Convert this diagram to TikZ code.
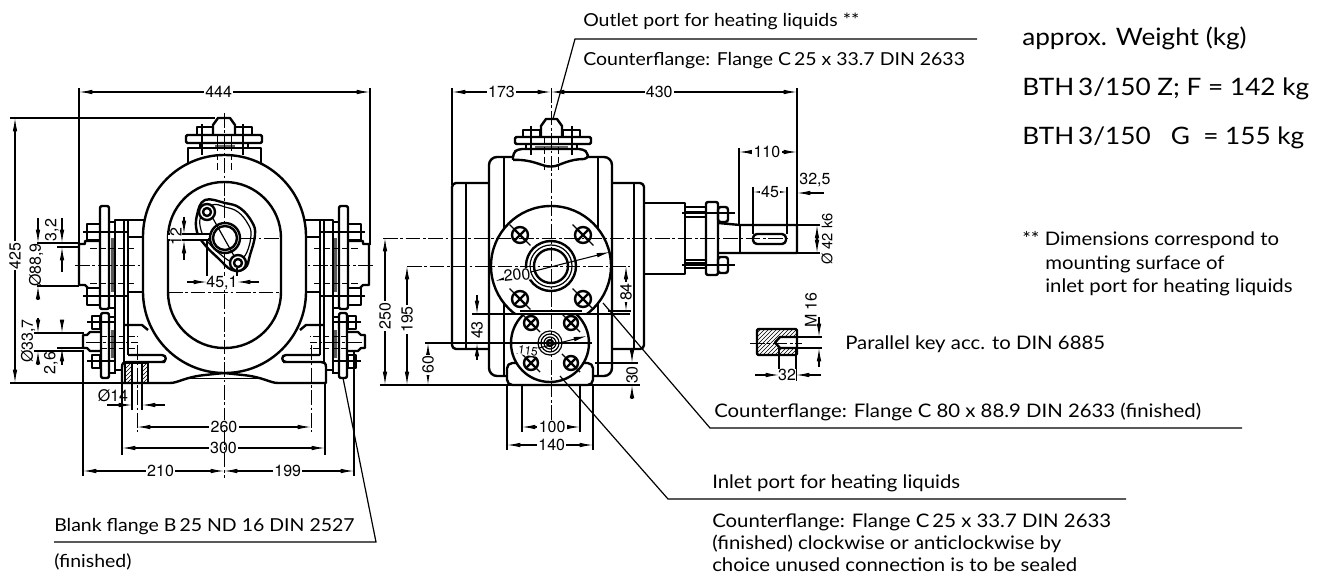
\documentclass[tikz,border=0pt]{standalone}
\usepackage{fontspec}
\setmainfont[FakeStretch=1.09]{Lato}
\newfontfamily\dimfont{TeX Gyre Heros}
\usetikzlibrary{arrows.meta,patterns}
\tikzset{
	>={Latex[length=10pt,width=3.4pt]},
	main/.style={line width=1.8pt,line join=round},
	fine/.style={line width=.9pt},
	cl/.style={line width=.7pt,dash pattern=on 11pt off 2pt on 2pt off 2pt},
	dl/.style={line width=.7pt,dash pattern=on 5pt off 2pt},
	dim/.style={line width=.8pt},
	dimtext/.style={font=\dimfont\fontsize{12}{12}\selectfont,fill=white,inner sep=1pt},
	dimside/.style={font=\dimfont\fontsize{12}{12}\selectfont,inner sep=0pt},
	lab/.style={anchor=base west,inner sep=0pt,font=\fontsize{13.4}{14}\selectfont},
	labb/.style={anchor=base west,inner sep=0pt,font=\fontsize{14}{14}\selectfont},
	big/.style={anchor=base west,inner sep=0pt,font=\fontsize{18}{20}\selectfont},
}
% flanges and foot of the end view, drawn for the left side and mirrored
\newcommand{\sideparts}{
	\draw[main] (146,220) -- (115,220) -- (115,370) -- (122,370);
	\draw[main] (124,220) -- (124,362);
	\draw[fine] (128,220) -- (128,355);
	\draw[main] (128,237) -- (143,237);
	\draw[main] (128,292) -- (146,292);
	\draw[main] (124,325) -- (142,325) -- (148,330);
	\draw[fine] (109,222) rectangle (115,308);
	\fill[black!65] (111,238) rectangle (114,292);
	\draw[main,rounded corners=1.5pt] (100,206) rectangle (109,309);
	\draw[main] (87,224) rectangle (100,240);
	\draw[main] (87,288) rectangle (100,305);
	\draw[main] (100,241) -- (85,241) -- (85,244) -- (79,244) -- (79,285) -- (85,285) -- (88,288);
	\draw[fine] (83,232) -- (128,232);
	\draw[fine] (83,296) -- (128,296);
	\draw[cl] (75,265) -- (150,265);
	\draw[dl] (90,248) -- (136,248);
	\draw[dl] (90,283) -- (136,283);
	% lower flange
	\draw[fine] (109,317) rectangle (115,373);
	\fill[black!65] (111,330) rectangle (114,358);
	\draw[main,rounded corners=1.5pt] (101,313) rectangle (109,378);
	\draw[main] (92,316) rectangle (100,329);
	\draw[main] (92,355) rectangle (100,368);
	\draw[main] (101,332) -- (90,332) -- (87,335) -- (83,335) -- (83,348) -- (87,348) -- (90,351) -- (101,351);
	\draw[fine] (87,322) -- (114,322);
	\draw[fine] (87,361) -- (114,361);
	\draw[cl] (86,342) -- (138,342);
	\draw[dl] (100,336) -- (138,336);
	\draw[dl] (100,348) -- (138,348);
	% foot
	\draw[main] (224,373) -- (205,375) .. controls (185,377) and (178,383) .. (170,383) -- (122,383) -- (122,367) .. controls (122,363) and (124,362) .. (127,362) -- (165,362);
	\draw[main] (128,355) -- (162,355) .. controls (167,355) and (167,362) .. (162,362);
	\draw[fine] (190,378.5) -- (224,378.5);
}
\newcommand{\nutx}[3]{
	\draw[main] (#1,#2) circle[radius=#3];
	\draw[main] ([shift={(-.7*#3,-.7*#3)}]#1,#2) -- ([shift={(.7*#3,.7*#3)}]#1,#2);
	\draw[main] ([shift={(-.7*#3,.7*#3)}]#1,#2) -- ([shift={(.7*#3,-.7*#3)}]#1,#2);
	\draw[fine] ([shift={(-1.3*#3,-1.3*#3)}]#1,#2) -- ([shift={(1.3*#3,1.3*#3)}]#1,#2);
}
\begin{document}
\begin{tikzpicture}[x=.75pt,y=-.75pt]
	\useasboundingbox (0,0) rectangle (1325,574);
	%
	% end view
	\sideparts
	\begin{scope}[xshift=336pt,xscale=-1]
		\sideparts
	\end{scope}
	% top flange
	\draw[main] (188,170) -- (188,148) -- (261,148) -- (261,170);
	\draw[fine] (200,143) rectangle (248,148);
	\fill[black!60] (215,145) rectangle (235,147);
	\draw[main,rounded corners=1pt] (186,135) rectangle (262,143);
	\draw[main] (197,127) rectangle (213,135);
	\draw[main] (235,127) rectangle (252,135);
	\draw[main] (213,135) -- (213,125) -- (218,118) -- (230,118) -- (235,125) -- (235,135);
	\draw[main,fill=white,rounded corners=61pt] (143,155) rectangle (306,373);
	\draw[main,rounded corners=42pt] (168,182) rectangle (281,348);
	\draw[cl] (224,113) -- (224,430);
	\draw[dl] (217,135) -- (217,170);
	\draw[dl] (231,135) -- (231,170);
	\draw[fine] (202,124) -- (202,155);
	\draw[fine] (243,124) -- (243,155);
	\draw[cl] (196,238) -- (281,238);
	\draw[cl] (168,292) -- (281,292);
	% oval port
	\draw[main,smooth cycle,tension=.7] plot coordinates {(205,200) (225,203) (240,208) (252,222) (255,235) (250,255) (245,268) (232,270) (218,258) (205,245) (197,232) (197,215)};
	\draw[fine,smooth cycle,tension=.7] plot coordinates {(212,205) (225,207) (238,212) (248,224) (251,235) (247,252) (240,260) (232,262) (220,254) (208,242) (201,230) (201,216)};
	\draw[main,fill=white] (225,238) circle[radius=15];
	\draw[main] (225,238) circle[radius=12];
	\draw[fine] (211,215) -- (238,263);
	\draw[main,fill=white] (207,212) circle[radius=8];
	\draw[main] (207,212) circle[radius=4];
	\draw[main,fill=white] (238,263) circle[radius=8];
	\draw[main] (238,263) circle[radius=4];
	\fill[white] (168,234.5) rectangle (208,239.5);
	\draw[fine] (168,234) -- (210,234);
	\draw[fine] (168,240) -- (210,240);
	% hole in the foot
	\fill[pattern=north east lines] (125,363) rectangle (132,383);
	\fill[pattern=north east lines] (142,363) rectangle (148,383);
	\draw[fine] (125,363) rectangle (148,383);
	\draw[fine] (132,363) -- (132,410);
	\draw[fine] (142,363) -- (142,410);
	\draw[cl] (137,345) -- (137,432);
	\draw[cl] (311,345) -- (311,432);
	% dimensions of the end view
	\draw[fine] (79,88) -- (79,245);
	\draw[fine] (370,88) -- (370,245);
	\draw[dim,<->] (79,92) -- node[dimtext,pos=.48] (d444) {444} (370,92);
	\draw[fine] (10,118) -- (215,118);
	\draw[fine] (10,383) -- (122,383);
	\draw[dim,<->] (15,118) -- node[dimtext,rotate=90,pos=.52] (d425) {425} (15,383);
	\draw[fine] (37,243) -- (79,243);
	\draw[fine] (37,286) -- (79,286);
	\draw[dim,->] (38,218) -- (38,243);
	\draw[dim,->] (38,300) -- (38,286);
	\node[dimside,rotate=90] (d889) at (36,265) {Ø88,9};
	\draw[fine] (57,247) -- (80,247);
	\draw[dim,->] (62,218) -- (62,243);
	\draw[dim,->] (62,272) -- (62,247);
	\node[dimside,rotate=90] (d32) at (52,230) {3,2};
	\draw[fine] (34,333) -- (84,333);
	\draw[fine] (34,351) -- (84,351);
	\draw[fine] (57,348) -- (84,348);
	\draw[dim,->] (38,318) -- (38,333);
	\draw[dim,->] (38,365) -- (38,351);
	\node[dimside,rotate=90] (d337) at (28,341) {Ø33,7};
	\draw[dim,->] (62,322) -- (62,333);
	\draw[dim,->] (62,365) -- (62,348);
	\node[dimside,rotate=90] (d26) at (51,363) {2,6};
	\draw[dim,->] (184,217) -- (184,234);
	\draw[dim,->] (184,260) -- (184,240);
	\node[dimside,rotate=90,fill=white] (d12) at (176,237) {12};
	\draw[fine] (207,240) -- (207,286);
	\draw[fine] (237,268) -- (237,286);
	\draw[dim,->] (187,282) -- (207,282);
	\draw[dim,->] (259,282) -- (237,282);
	\node[dimside,fill=white] (d451) at (222,283) {45,1};
	\node[dimside] (d14) at (113,396) {Ø14};
	\draw[dim,->] (107,405) -- (132,405);
	\draw[dim,->] (165,405) -- (142,405);
	\draw[dim,<->] (137,427) -- node[dimtext,pos=.5] (d260) {260} (311,427);
	\draw[fine] (122,383) -- (122,455);
	\draw[fine] (325,383) -- (325,455);
	\draw[dim,<->] (122,448) -- node[dimtext,pos=.5] (d300) {300} (325,448);
	\draw[fine] (83,350) -- (83,476);
	\draw[fine] (354,350) -- (354,476);
	\draw[cl] (224,430) -- (224,478);
	\draw[dim,<->] (83,471) -- node[dimtext,pos=.55] (d210) {210} (224,471);
	\draw[dim,<->] (224,471) -- node[dimtext,pos=.49] (d199) {199} (354,471);
	%
	% side view
	\draw[main,rounded corners=3pt] (489,183) -- (452,183) -- (452,349) -- (489,349);
	\draw[main] (466,183) -- (466,349);
	\draw[main,rounded corners=3pt] (612,183) -- (644,183) -- (644,349) -- (612,349);
	\draw[main] (634,183) -- (634,349);
	\draw[main] (644,203) -- (685,203) -- (685,274) -- (644,274);
	\draw[main] (685,217) -- (706,217);
	\draw[main] (685,260) -- (706,260);
	\draw[fine] (685,212) rectangle (706,207);
	\draw[fine] (685,268) rectangle (706,263);
	\draw[main,rounded corners=1.5pt] (706,202) rectangle (718,275);
	\draw[main,rounded corners=2pt] (718,207) rectangle (728,222);
	\draw[main,rounded corners=2pt] (718,257) rectangle (728,273);
	\draw[fine] (682,213) -- (735,213);
	\draw[fine] (682,265) -- (735,265);
	\draw[main] (718,223) -- (740,225) -- (797,225) -- (797,253) -- (740,253) -- (718,253);
	\draw[main] (740,225) -- (740,253);
	\draw[main,rounded corners=3pt] (753,234) rectangle (786,244);
	\draw[main,fill=white,rounded corners=6pt] (489,157) rectangle (612,376);
	\draw[main] (504,157) -- (504,376);
	\draw[main] (598,157) -- (598,376);
	% top flange
	\draw[main,fill=white,rounded corners=3pt] (513,160) -- (513,153) -- (518,149) -- (583,149) -- (588,153) -- (588,159) .. controls (570,159) and (560,165) .. (551,167) .. controls (540,165) and (530,159) .. (513,160);
	\draw[fine] (526,144) rectangle (577,149);
	\fill[black!60] (535,146) rectangle (568,148);
	\draw[main,rounded corners=1pt] (515,137) rectangle (591,144);
	\draw[main] (523,130) rectangle (540,137);
	\draw[main] (563,130) rectangle (580,137);
	\draw[main] (541,137) -- (541,126) -- (546,119) -- (557,119) -- (562,126) -- (562,137);
	\draw[dl] (544,138) -- (544,170);
	\draw[dl] (558,138) -- (558,170);
	\draw[fine] (531,126) -- (531,155);
	\draw[fine] (572,126) -- (572,155);
	% large flange
	\begin{scope}
		\clip (480,195) rectangle (620,312);
		\draw[main,fill=white] (551,266) circle[radius=60];
	\end{scope}
	\draw[main] (520,311) -- (582,311);
	\draw[main] (551,266) circle[radius=25];
	\draw[fine] (551,266) circle[radius=21];
	\draw[main] (551,266) circle[radius=17];
	\foreach \px/\py in {520/235,583/235,520/299,583/299} {
		\nutx{\px}{\py}{8}
	}
	% foot and small flange
	\draw[main,fill=white,rounded corners=4pt] (507,385) -- (507,363) -- (593,363) -- (593,385) -- cycle;
	\begin{scope}
		\clip (495,314) rectangle (610,395);
		\draw[main,fill=white] (550,343) circle[radius=39];
	\end{scope}
	\draw[main] (522,314) -- (578,314);
	\draw[fine] (550,343) circle[radius=12];
	\draw[fine] (550,343) circle[radius=9];
	\draw[fine] (550,343) circle[radius=6];
	\draw[main] (550,343) circle[radius=3];
	\foreach \px/\py in {531/323,571/323,531/363,571/363} {
		\nutx{\px}{\py}{7}
	}
	\draw[cl] (551,88) -- (551,430);
	\draw[cl] (383,238) -- (790,238);
	\draw[cl] (407,266) -- (630,266);
	\draw[fine] (425,343) -- (592,343);
	\draw[fine] (472,314) -- (630,314);
	\draw[fine] (595,363) -- (638,363);
	\draw[fine] (380,385) -- (640,385);
	\draw[fine] (608,311) -- (631,311);
	% dimensions of the side view
	\draw[fine] (452,88) -- (452,185);
	\draw[fine] (797,88) -- (797,252);
	\draw[dim,<->] (452,92) -- node[dimtext,pos=.5] (d173) {173} (551,92);
	\draw[dim,<->] (551,92) -- node[dimtext,pos=.44] (d430) {430} (797,92);
	\draw[dim,<->] (385,238) -- node[dimtext,rotate=90,pos=.53] (d250) {250} (385,385);
	\draw[dim,<->] (407,266) -- node[dimtext,rotate=90,pos=.45] (d195) {195} (407,385);
	\draw[dim,<->] (428,343) -- node[dimtext,rotate=90,pos=.52] (d60) {60} (428,385);
	\draw[dim,->] (477,295) -- (477,314);
	\draw[dim,->] (477,360) -- (477,343);
	\node[dimside,rotate=90,fill=white] (d43) at (477,330) {43};
	\draw[dim,<->] (626,266) -- node[dimtext,rotate=90,pos=.58] (d84) {84} (626,311);
	\draw[dim,->] (632,350) -- (632,363);
	\draw[dim,->] (632,398) -- (632,385);
	\node[dimside,rotate=90,fill=white] (d30) at (632,375) {30};
	\draw[dim,<->] (495,281) -- (610,252);
	\node[dimside,fill=white,rotate=6] (d200) at (517,275) {200};
	\draw[dim,<->] (515,354) -- (587,336);
	\node[dimside,fill=white,rotate=-8,font=\dimfont\fontsize{9}{9}\selectfont] (d115) at (528,351) {115};
	\draw[fine] (507,385) -- (507,450);
	\draw[fine] (593,385) -- (593,450);
	\draw[fine] (522,385) -- (522,432);
	\draw[fine] (580,385) -- (580,432);
	\draw[dim,<->] (522,427) -- node[dimtext,pos=.52] (d100) {100} (580,427);
	\draw[dim,<->] (507,445) -- node[dimtext,pos=.52] (d140) {140} (593,445);
	\draw[fine] (739,148) -- (739,225);
	\draw[dim,<->] (739,152) -- node[dimtext,pos=.48] (d110) {110} (797,152);
	\draw[fine] (753,187) -- (753,234);
	\draw[fine] (787,187) -- (787,234);
	\draw[dim,<->] (753,192) -- node[dimtext] (d45) {45} (787,192);
	\node[dimside] (d325) at (815,180) {32,5};
	\draw[dim,->] (824,193) -- (797,193);
	\draw[fine] (797,225) -- (820,225);
	\draw[fine] (797,253) -- (820,253);
	\draw[dim,<->] (817,225) -- (817,253);
	\node[dimside,rotate=90,font=\dimfont\fontsize{11}{11}\selectfont] (d42) at (827,239) {Ø 42 k6};
	%
	% key
	\fill[pattern=north east lines] (757,329) rectangle (797,355);
	\fill[white] (779,337) rectangle (797,348);
	\draw[main,rounded corners=1pt] (757,329) rectangle (797,355);
	\draw[main] (797,337) -- (780,337) -- (775,342.5) -- (780,348) -- (797,348);
	\draw[cl] (750,343) -- (802,343);
	\draw[fine] (797,337) -- (822,337);
	\draw[fine] (797,348) -- (822,348);
	\draw[dim,->] (819,317) -- (819,337);
	\draw[dim,->] (819,367) -- (819,348);
	\node[dimside,rotate=90] (dM16) at (811,310) {M 16};
	\draw[fine] (779,348) -- (779,381);
	\draw[fine] (796,348) -- (796,381);
	\draw[dim,->] (755,375) -- (779,375);
	\draw[dim,->] (821,375) -- (796,375);
	\node[dimside,fill=white] (d32b) at (787,375) {32};
	%
	% leaders and texts
	\coordinate (outlet) at (553,119);
	\coordinate (outletk) at (575,39);
	\coordinate (outlete) at (977,39);
	\draw[fine] (outlet) -- (outletk) -- (outlete);
	\node[lab] (outlett) at (583,27) {Outlet port for heating liquids **};
	\node[lab] (outletc) at (583,66) {Counterflange: Flange C\,25 x 33.7 DIN 2633};
	\node[big] (weight) at (1022,46) {approx. Weight (kg)};
	\node[big] (weightz) at (1022,96) {BTH\,3/150 Z; F = 142 kg};
	\node[big] (weightg) at (1022,145) {BTH\,3/150 \ \ G \ = 155 kg};
	\node[labb] (notea) at (1022,246) {** Dimensions correspond to};
	\node[labb] (noteb) at (1045,269) {mounting surface of};
	\node[labb] (notec) at (1045,292) {inlet port for heating liquids};
	\node[labb] (keyt) at (845,349) {Parallel key acc. to DIN 6885};
	\coordinate (flange) at (603,303);
	\coordinate (flangek) at (710,428);
	\coordinate (flangee) at (1242,428);
	\draw[fine] (flange) -- (flangek) -- (flangee);
	\node[labb] (flanget) at (714,417) {Counterflange: Flange C 80 x 88.9 DIN 2633 (finished)};
	\coordinate (inlet) at (560,376);
	\coordinate (inletk) at (668,499);
	\coordinate (inlete) at (1126,499);
	\draw[fine] (inlet) -- (inletk) -- (inlete);
	\node[labb] (inlett) at (712,488) {Inlet port for heating liquids};
	\node[labb] (inleta) at (712,527) {Counterflange: Flange C\,25 x 33.7 DIN 2633};
	\node[labb] (inletb) at (712,549) {(finished) clockwise or anticlockwise by};
	\node[labb] (inletc) at (712,571) {choice unused connection is to be sealed};
	\coordinate (blank) at (343,378);
	\coordinate (blankk) at (376,542);
	\coordinate (blanke) at (54,542);
	\draw[fine] (blank) -- (blankk) -- (blanke);
	\node[lab] (blankt) at (54,531) {Blank flange B\,25 ND 16 DIN 2527};
	\node[lab] (blankf) at (54,567) {(finished)};
\end{tikzpicture}
\end{document}
